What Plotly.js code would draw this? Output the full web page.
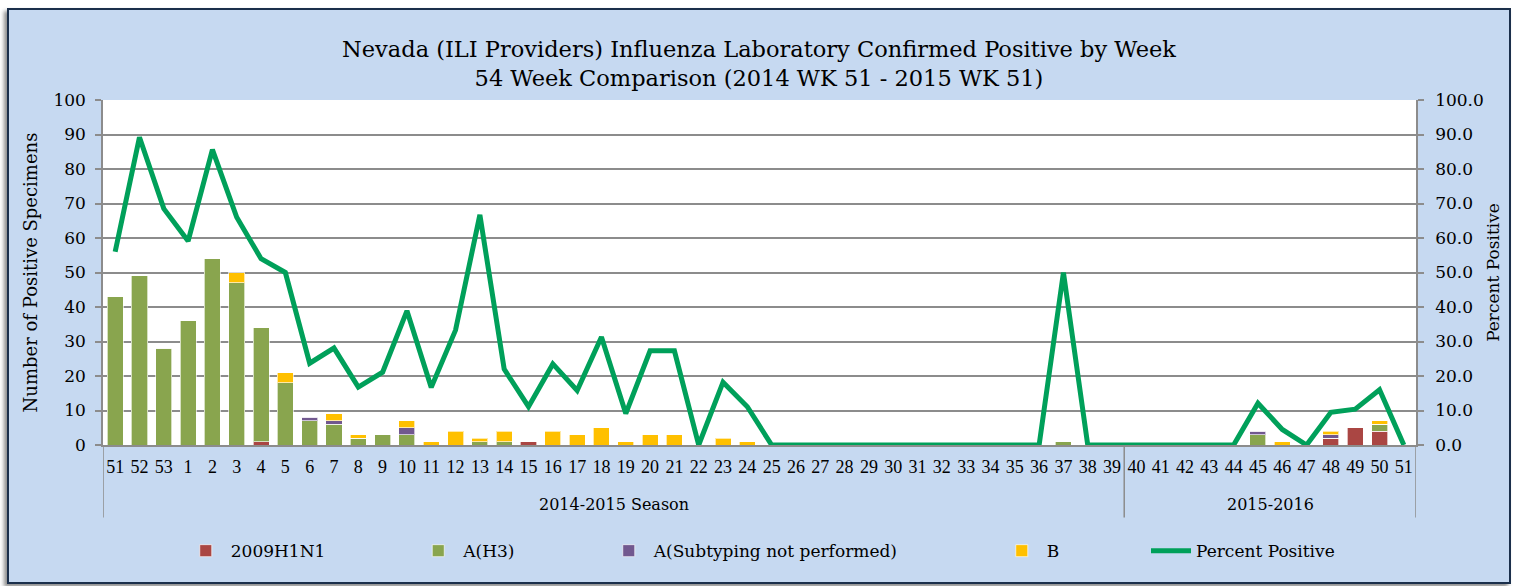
<!DOCTYPE html>
<html>
<head>
<meta charset="utf-8">
<script src="https://cdn.plot.ly/plotly-3.0.1.min.js"></script>
<style>
  html, body { margin: 0; padding: 0; background: #ffffff; }
  #frame {
    position: absolute; left: 7px; top: 8px;
    width: 1500px; height: 572px;
    border: 2px solid #1B2F4B;
    background: #C6D9F1;
    box-shadow: -3px 3px 4px rgba(0,0,0,0.45);
  }
  #chart { width: 1500px; height: 572px; }
</style>
</head>
<body>
<div id="frame"><div id="chart"></div></div>
<script>
// ---- data ----
const weeks = ['51','52','53','1','2','3','4','5','6','7','8','9','10','11','12','13','14','15','16','17','18','19','20','21','22','23','24','25','26','27','28','29','30','31','32','33','34','35','36','37','38','39',
               '40','41','42','43','44','45','46','47','48','49','50','51'];
const seasons = [].concat(Array(42).fill('2014-2015 Season'), Array(12).fill('2015-2016'));

const h1n1 = [0,0,0,0,0,0,1,0,0,0,0,0,0,0,0,0,0,1,0,0,0,0,0,0,0,0,0,0,0,0,0,0,0,0,0,0,0,0,0,0,0,0,
              0,0,0,0,0,0,0,0,2,5,4,0];
const h3   = [43,49,28,36,54,47,33,18,7,6,2,3,3,0,0,1,1,0,0,0,0,0,0,0,0,0,0,0,0,0,0,0,0,0,0,0,0,0,0,1,0,0,
              0,0,0,0,0,3,0,0,0,0,2,0];
const aNotSubtyped = [0,0,0,0,0,0,0,0,1,1,0,0,2,0,0,0,0,0,0,0,0,0,0,0,0,0,0,0,0,0,0,0,0,0,0,0,0,0,0,0,0,0,
              0,0,0,0,0,1,0,0,1,0,0,0];
const fluB = [0,0,0,0,0,3,0,3,0,2,1,0,2,1,4,1,3,0,4,3,5,1,3,3,0,2,1,0,0,0,0,0,0,0,0,0,0,0,0,0,0,0,
              0,0,0,0,0,0,1,0,1,0,1,0];
const pctPositive = [56,89.2,68.5,59.1,85.6,66,54,50,23.7,28.1,16.8,21.1,38.9,16.7,33.3,66.7,22,11.1,23.5,15.8,31.3,9.1,27.3,27.3,0,18.2,11.1,
              0,0,0,0,0,0,0,0,0,0,0,0,50,0,0,
              0,0,0,0,0,12.1,4.5,0,9.5,10.4,16,0];

const seriesNames = ['2009H1N1','A(H3)','A(Subtyping not performed)','B','Percent Positive'];
const seriesColors = ['#AA4643','#89A54E','#71588F','#FFC000','#00A05A'];

// ---- derived positions (category index) ----
const idx = weeks.map((_, i) => i);
// season groups from the seasons array
const groups = [];
seasons.forEach((s, i) => {
  if (!groups.length || groups[groups.length - 1].name !== s) groups.push({name: s, start: i, end: i});
  else groups[groups.length - 1].end = i;
});

const SERIF = 'DejaVu Serif, Cambria, serif';
const TNR = 'Liberation Serif, serif';
const barLine = {color: 'rgba(255,255,255,0.65)', width: 1};
const barSeries = [h1n1, h3, aNotSubtyped, fluB];
const legendIds = ['legend','legend2','legend3','legend4','legend5'];

const traces = barSeries.map((vals, i) => ({
  type: 'bar', x: idx, y: vals, name: seriesNames[i],
  marker: {color: seriesColors[i], line: barLine},
  legend: legendIds[i], hovertext: weeks, hoverinfo: 'text+y+name'
}));
traces.push({
  type: 'scatter', mode: 'lines', x: idx, y: pctPositive, name: seriesNames[4],
  yaxis: 'y2', line: {color: seriesColors[4], width: 5, shape: 'linear'},
  legend: legendIds[4]
});

// legend positions (container fraction), one legend per series
const legendX = [0.1145, 0.2695, 0.3965, 0.6585, 0.758];
const legendCommon = (x) => ({
  x: x, xref: 'container', y: 0.054, yref: 'container', yanchor: 'middle', xanchor: 'left',
  orientation: 'h', bgcolor: 'rgba(0,0,0,0)', font: {family: SERIF, size: 17, color: '#000'},
  itemwidth: 40
});

const gridCol = '#8C8C8C';
const dividerBottom = -0.21;
const shapes = [];
const annotations = [];
groups.forEach((g, k) => {
  if (k === 0) shapes.push({type: 'line', xref: 'x', yref: 'paper', x0: g.start - 0.5, x1: g.start - 0.5, y0: 0, y1: dividerBottom, line: {color: gridCol, width: 1.5}});
  shapes.push({type: 'line', xref: 'x', yref: 'paper', x0: g.end + 0.5, x1: g.end + 0.5, y0: 0, y1: dividerBottom, line: {color: gridCol, width: 1.5}});
  annotations.push({xref: 'x', yref: 'paper', x: (g.start + g.end) / 2, y: -0.173, text: g.name, showarrow: false,
    yanchor: 'middle', xanchor: 'center', font: {family: SERIF, size: 16, color: '#000'}});
});

const layout = {
  width: 1500, height: 572,
  paper_bgcolor: '#C6D9F1', plot_bgcolor: '#FFFFFF',
  margin: {l: 94, r: 93, t: 90, b: 137},
  barmode: 'stack', bargap: 0.34,
  font: {family: SERIF, size: 18, color: '#000'},
  title: {
    text: 'Nevada (ILI Providers) Influenza Laboratory Confirmed Positive by Week<br>54 Week Comparison (2014 WK 51 - 2015 WK 51)',
    font: {family: SERIF, size: 22.5, color: '#000'},
    x: 0.5, xanchor: 'center', y: 0.918, yref: 'container', yanchor: 'middle'
  },
  xaxis: {
    range: [-0.5, weeks.length - 0.5],
    tickmode: 'array', tickvals: idx, ticktext: weeks, tickangle: 0,
    showline: true, linecolor: gridCol, linewidth: 1.5,
    showgrid: false, zeroline: false, ticks: '',
    ticklabelstandoff: 5,
    tickfont: {family: TNR, size: 18, color: '#000'}
  },
  yaxis: {
    range: [0, 100], dtick: 10, tick0: 0,
    showgrid: true, gridcolor: gridCol, gridwidth: 1.5,
    showline: true, linecolor: gridCol, linewidth: 1.5,
    ticks: 'outside', ticklen: 6, tickcolor: gridCol, tickwidth: 1.5,
    ticklabelstandoff: 6,
    zeroline: false,
    tickfont: {family: SERIF, size: 17, color: '#000'},
    title: {text: 'Number of Positive Specimens', font: {family: SERIF, size: 18, color: '#000'}, standoff: 11}
  },
  yaxis2: {
    overlaying: 'y', side: 'right',
    range: [0, 100], dtick: 10, tick0: 0, tickformat: '.1f',
    showgrid: false, zeroline: false,
    showline: true, linecolor: gridCol, linewidth: 1.5,
    ticks: 'outside', ticklen: 6, tickcolor: gridCol, tickwidth: 1.5,
    ticklabelstandoff: 8,
    tickfont: {family: SERIF, size: 17, color: '#000'},
    title: {text: 'Percent Positive', font: {family: SERIF, size: 17, color: '#000'}, standoff: 4}
  },
  shapes: shapes,
  annotations: annotations,
  showlegend: true
};
legendIds.forEach((id, i) => { layout[id] = legendCommon(legendX[i]); });

Plotly.newPlot('chart', traces, layout, {displayModeBar: false, responsive: false});
</script>
</body>
</html>
